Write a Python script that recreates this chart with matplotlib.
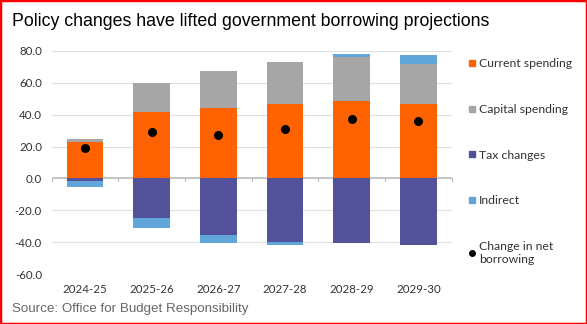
import matplotlib.pyplot as plt
from matplotlib.lines import Line2D
from matplotlib.patches import Rectangle
import numpy as np

# Data (GBP bn)
years = ['2024-25', '2025-26', '2026-27', '2027-28', '2028-29', '2029-30']
current_spending = [22.9, 41.6, 44.1, 46.8, 48.5, 46.8]
capital_spending = [1.9, 18.1, 23.2, 26.3, 27.7, 24.9]
tax_changes = [-1.5, -24.9, -35.5, -39.7, -40.1, -41.8]
indirect = [-3.7, -5.8, -4.6, -1.9, 1.7, 5.8]
net_borrowing = [19.4, 28.8, 27.1, 31.3, 37.2, 35.7]

c_orange = '#FF6200'
c_grey = '#A6A6A6'
c_purple = '#525199'
c_blue = '#60A6DA'

plt.rcParams['font.family'] = ['Lato', 'DejaVu Sans']

fig = plt.figure(figsize=(5.87, 3.24), dpi=100)
ax = fig.add_axes([0.088, 0.1534, 0.6815, 0.690])

x = np.arange(len(years))
w = 0.55
cur = np.array(current_spending)
cap = np.array(capital_spending)
tax = np.array(tax_changes)
ind = np.array(indirect)

ax.bar(x, cur, w, color=c_orange, zorder=3)
ax.bar(x, cap, w, bottom=cur, color=c_grey, zorder=3)
ax.bar(x, tax, w, color=c_purple, zorder=3)
# indirect sits on top of the positive stack or under the negative one
ind_bottom = np.where(ind > 0, cur + cap, tax)
ax.bar(x, ind, w, bottom=ind_bottom, color=c_blue, zorder=3)
ax.scatter(x, net_borrowing, s=30, color='black', zorder=4)

ax.set_xlim(-0.5, len(years) - 0.5)
ax.set_ylim(-60, 80)
ax.set_yticks(np.arange(-60, 81, 20))
ax.set_yticklabels(['{:.1f}'.format(v) for v in np.arange(-60, 81, 20)])
ax.set_xticks(x)
ax.set_xticklabels(years)
ax.tick_params(axis='both', length=0, labelsize=8.3, colors='#333333', pad=7)
ax.grid(True, axis='y', color='#E0E0E0', linewidth=0.8, zorder=0)
for s in ax.spines.values():
    s.set_visible(False)
ax.axhline(0, color='#BFBFBF', linewidth=1.2, zorder=2)
# small tick marks on the zero line between categories
for b in np.arange(-0.5, len(years), 1.0):
    ax.plot([b, b], [0, -1.6], color='#BFBFBF', linewidth=0.8, zorder=2, clip_on=False)

handles = [
    Line2D([], [], marker='s', linestyle='none', color=c_orange, markersize=5),
    Line2D([], [], marker='s', linestyle='none', color=c_grey, markersize=5),
    Line2D([], [], marker='s', linestyle='none', color=c_purple, markersize=5),
    Line2D([], [], marker='s', linestyle='none', color=c_blue, markersize=5),
    Line2D([], [], marker='o', linestyle='none', color='black', markersize=4),
]
labels = ['Current spending', 'Capital spending', 'Tax changes', 'Indirect',
          'Change in net\nborrowing']
fig.legend(handles, labels, loc='upper left', bbox_to_anchor=(0.787, 0.84),
           frameon=False, fontsize=8.8, labelspacing=2.85, handlelength=0.6,
           handletextpad=0.3, borderpad=0, labelcolor='#333333')

fig.text(0.02, 0.935, 'Policy changes have lifted government borrowing projections',
         family='Liberation Sans', fontsize=12.8, color='black', va='center')
fig.text(0.02, 0.045, 'Source: Office for Budget Responsibility',
         family='Liberation Sans', fontsize=9.6, color='#666666', va='center')

fig.patches.append(Rectangle((0, 0), 1, 1, transform=fig.transFigure, fill=False,
                             edgecolor='#FF0000', linewidth=2.5, zorder=10))

fig.savefig('out.png', dpi=100)
